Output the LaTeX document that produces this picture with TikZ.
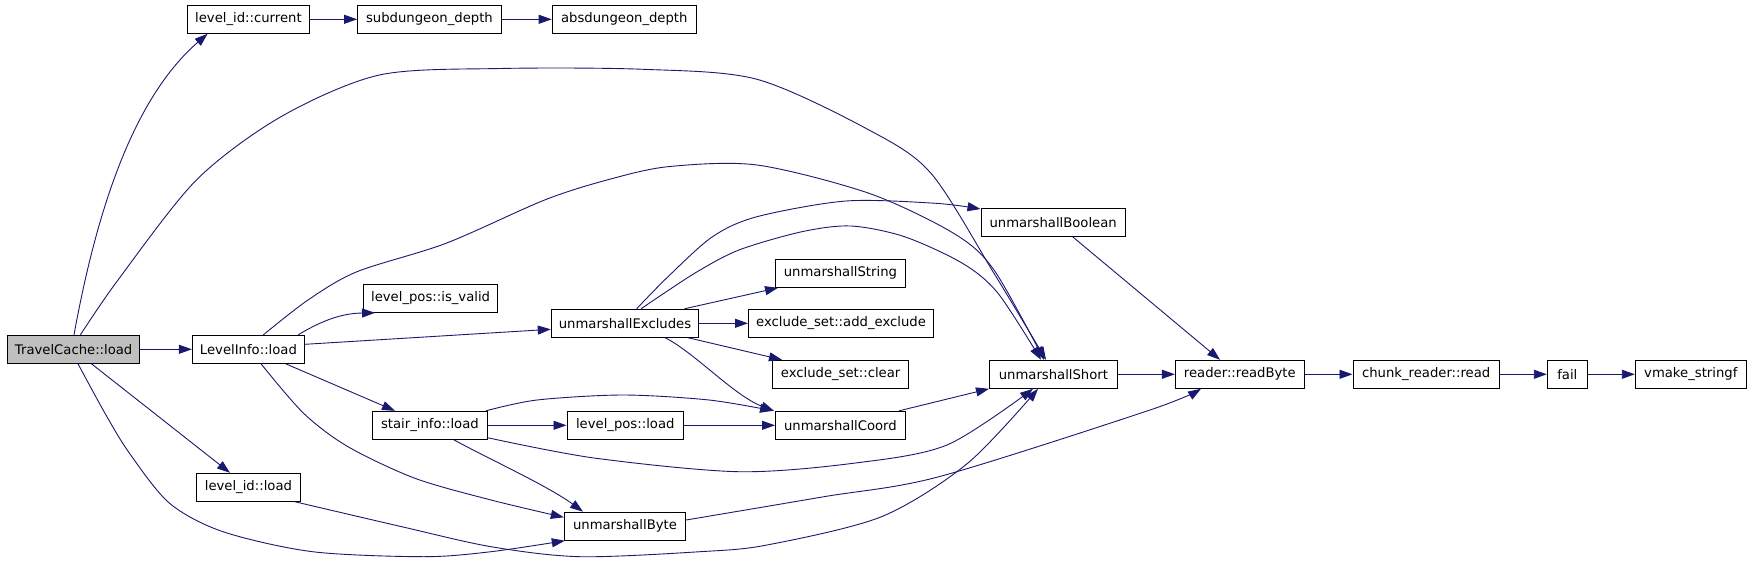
\documentclass[tikz,border=0pt]{standalone}
\usepackage{fontspec}
\setmainfont{DejaVu Sans}
\usetikzlibrary{arrows.meta}
\definecolor{edgecol}{HTML}{191970}
\definecolor{rootfill}{HTML}{BFBFBF}
\tikzset{
  box/.style={draw=black, line width=1pt, fill=white, minimum height=28pt, inner sep=0pt, anchor=center},
  edge/.style={draw=edgecol, line width=0.9pt, -{Triangle[length=13pt,width=9pt]}},
}
\begin{document}
\begin{tikzpicture}[x=1pt,y=-1pt,font=\fontsize{13.2}{15}\selectfont]
\useasboundingbox[fill=white] (0,0) rectangle (1752,572);
% nodes
\node[box,fill=rootfill,minimum width=132.1pt] (tc) at (73.65,349.3) {TravelCache::load};
\node[box,minimum width=112.1pt] (li) at (248.45,349.3) {LevelInfo::load};
\node[box,minimum width=121.9pt] (lic) at (248.45,19.3) {level\_id::current};
\node[box,minimum width=143.7pt] (sd) at (429.45,19.3) {subdungeon\_depth};
\node[box,minimum width=144.2pt] (ad) at (624.3,19.3) {absdungeon\_depth};
\node[box,minimum width=144.3pt] (ub) at (1053.15,222.5) {unmarshallBoolean};
\node[box,minimum width=129.8pt] (ust) at (840.4,273.3) {unmarshallString};
\node[box,minimum width=134.4pt] (iv) at (430.6,298.3) {level\_pos::is\_valid};
\node[box,minimum width=147.4pt] (ue) at (625,323.3) {unmarshallExcludes};
\node[box,minimum width=185.1pt] (ae) at (841.05,323.3) {exclude\_set::add\_exclude};
\node[box,minimum width=136.2pt] (cl) at (840.6,374.3) {exclude\_set::clear};
\node[box,minimum width=127.8pt] (us) at (1053.4,374.3) {unmarshallShort};
\node[box,minimum width=128.9pt] (rb) at (1239.85,374.3) {reader::readByte};
\node[box,minimum width=146.3pt] (cr) at (1426.15,374.3) {chunk\_reader::read};
\node[box,minimum width=40pt] (fa) at (1567.3,374.3) {fail};
\node[box,minimum width=111pt] (vm) at (1690.8,374.3) {vmake\_stringf};
\node[box,minimum width=115.2pt] (si) at (429.9,425.3) {stair\_info::load};
\node[box,minimum width=116.5pt] (lp) at (625.25,425.3) {level\_pos::load};
\node[box,minimum width=129.8pt] (uc) at (840.4,425.3) {unmarshallCoord};
\node[box,minimum width=104pt] (lil) at (248.4,487.3) {level\_id::load};
\node[box,minimum width=121.4pt] (uby) at (625,526.2) {unmarshallByte};
% straight edges
\draw[edge] (tc.east) -- (li.west);
\draw[edge] (lic.east) -- (sd.west);
\draw[edge] (sd.east) -- (ad.west);
\draw[edge] (ue.east) -- (ae.west);
\draw[edge] (si.east) -- (lp.west);
\draw[edge] (lp.east) -- (uc.west);
\draw[edge] (us.east) -- (rb.west);
\draw[edge] (rb.east) -- (cr.west);
\draw[edge] (cr.east) -- (fa.west);
\draw[edge] (fa.east) -- (vm.west);
\draw[edge] ([xshift=17.85pt]tc.south) -- ([xshift=-18.4pt]lil.north);
\draw[edge] ([xshift=37.25pt]li.south) -- ([xshift=-34.9pt]si.north);
\draw[edge] ([yshift=5pt]li.east) -- ([yshift=-6pt]ue.west);
\draw[edge] ([xshift=49.75pt]li.north) to[bend left=15] ([xshift=-55.6pt]iv.south);
\draw[edge] ([xshift=59.4pt]ue.north) -- ([xshift=-62.4pt]ust.south);
\draw[edge] ([xshift=63.3pt]ue.south) -- ([xshift=-58.6pt]cl.north);
\draw[edge] ([xshift=-6.7pt]uc.north east) -- (us.south west);
\draw[edge] ([xshift=19.75pt]ub.south) -- ([xshift=-19.85pt]rb.north);
% curved edges
\draw[edge] ([xshift=0.35pt]tc.north) .. controls (95,220) and (130,101) .. ([xshift=-40.85pt]lic.south);
\draw[edge] plot[smooth] coordinates {([xshift=6.75pt]tc.north) (118,280) (196.4,180) (281,116.7) (379.5,75) (500,68.5) (643,69.3) (757,79.3) (869,130) (931,173.3) (994,273.3) ([xshift=-7.4pt]us.north)};
\draw[edge] plot[smooth] coordinates {([xshift=4.35pt]tc.south) (105,413.3) (129.5,453.3) (169.6,503.3) (223,531.7) (312.5,551.7) (424,556.7) (491,551.7) ([xshift=1pt]uby.south west)};
\draw[edge] plot[smooth] coordinates {([xshift=14.95pt]li.north) (308,300) (357,271.7) (446,243.3) (544.6,200) (607,180) (668,166.7) (757,165) (869,193.3) (953.6,233.3) (994,270) ([xshift=-9.4pt]us.north)};
\draw[edge] plot[smooth] coordinates {([xshift=12.55pt]li.south) (303.6,413.3) (348,446.7) (415,478.3) (491,500) ([yshift=8.9pt]uby.west)};
\draw[edge] plot[smooth] coordinates {([xshift=11.6pt]ue.north) (668,276.7) (712.5,236.7) (757,216.7) (846,201) (935.7,203.3) ([yshift=-1pt]ub.north west)};
\draw[edge] plot[smooth] coordinates {([xshift=16pt]ue.north) (694.6,273.3) (739,250) (802,231.7) (851,226) (904.5,236.7) (962.5,263.3) (998,293.3) ([xshift=-12.4pt]us.north)};
\draw[edge] ([xshift=40.3pt]ue.south) .. controls (695,353) and (734.5,396) .. ([xshift=-1pt]uc.north west);
\draw[edge] plot[smooth] coordinates {([xshift=-2pt]si.north east) (537,400) (623,395) (709,400) ([xshift=-2pt]uc.north west)};
\draw[edge] plot[smooth] coordinates {([yshift=2pt]si.south east) (594,458) (738,471.7) (853,463.3) (947,445) ([xshift=-20.4pt]us.south)};
\draw[edge] ([xshift=23.9pt]si.south) .. controls (489,459) and (548,486) .. ([xshift=-42pt]uby.north);
\draw[edge] plot[smooth] coordinates {([xshift=-5.8pt]lil.south east) (401.8,526.7) (491,546.7) (580,556.7) (700,551.7) (767,545) (881.5,516.7) (967.6,463.3) ([xshift=-15.4pt]us.south)};
\draw[edge] plot[smooth] coordinates {([yshift=6.2pt]uby.east) (824,496.7) (939,476.7) (1150,410) ([xshift=-38.85pt]rb.south)};
\end{tikzpicture}
\end{document}
